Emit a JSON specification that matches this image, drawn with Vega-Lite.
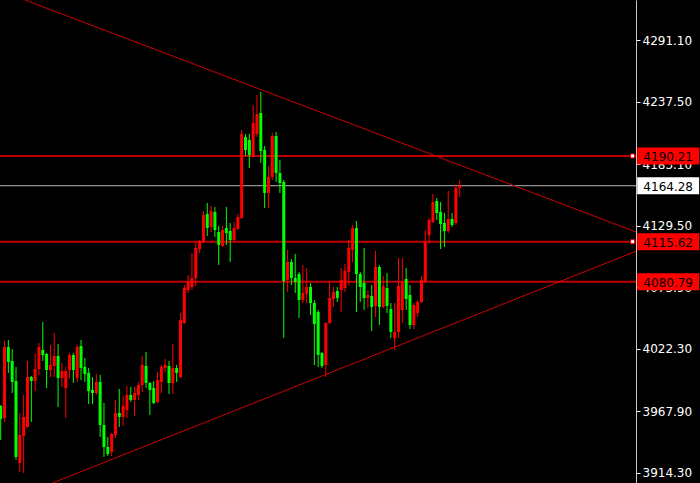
{
  "$schema": "https://vega.github.io/schema/vega-lite/v6.json",
  "width": 636,
  "height": 483,
  "autosize": {"type": "none"},
  "padding": {"left": 0, "top": 0, "right": 64, "bottom": 0},
  "background": "#000000",
  "config": {
    "view": {"stroke": null, "fill": "#000000"},
    "axisX": {"disable": true},
    "axisY": {
      "orient": "right",
      "title": null,
      "format": ".2f",
      "labelColor": "#ffffff",
      "labelFont": "DejaVu Sans",
      "labelFontSize": 12,
      "labelPadding": 2,
      "labelOverlap": false,
      "labelFlush": false,
      "labelBound": false,
      "tickColor": "#ffffff",
      "tickSize": 4,
      "domainColor": "#c8c8c8",
      "domainWidth": 1,
      "grid": false,
      "zindex": 0
    }
  },
  "resolve": {"scale": {"color": "independent", "strokeWidth": "independent"}},
  "datasets": {
    "candles": [
      {"i":0,"o":3972.60,"h":3973.47,"l":3943.02,"c":3961.29},
      {"i":1,"o":3962.17,"h":4029.17,"l":3958.68,"c":4023.95},
      {"i":2,"o":4023.95,"h":4030.04,"l":4001.32,"c":4010.89},
      {"i":3,"o":4011.76,"h":4022.21,"l":3983.92,"c":3993.49},
      {"i":4,"o":3994.36,"h":4006.54,"l":3925.61,"c":3928.22},
      {"i":5,"o":3923.00,"h":3966.51,"l":3915.17,"c":3947.37},
      {"i":6,"o":3946.50,"h":3982.18,"l":3914.30,"c":3963.03},
      {"i":7,"o":3954.33,"h":4011.76,"l":3953.46,"c":3997.84},
      {"i":8,"o":3997.84,"h":3998.71,"l":3958.68,"c":3994.36},
      {"i":9,"o":3994.36,"h":4017.86,"l":3985.66,"c":4004.81},
      {"i":10,"o":4004.81,"h":4027.43,"l":3999.58,"c":4023.95},
      {"i":11,"o":4021.34,"h":4045.70,"l":4011.76,"c":4016.99},
      {"i":12,"o":4017.86,"h":4018.73,"l":3988.27,"c":4003.93},
      {"i":13,"o":4003.93,"h":4025.69,"l":3997.84,"c":4008.28},
      {"i":14,"o":4007.41,"h":4036.13,"l":3997.84,"c":4016.12},
      {"i":15,"o":4016.12,"h":4026.56,"l":3971.73,"c":3996.97},
      {"i":16,"o":3996.97,"h":4010.02,"l":3989.14,"c":4003.06},
      {"i":17,"o":3988.27,"h":4006.54,"l":3962.17,"c":4003.06},
      {"i":18,"o":4003.93,"h":4018.73,"l":3996.97,"c":4016.99},
      {"i":19,"o":4016.99,"h":4018.73,"l":3992.62,"c":4003.93},
      {"i":20,"o":3996.97,"h":4025.69,"l":3993.49,"c":4023.95},
      {"i":21,"o":4024.82,"h":4030.04,"l":3995.23,"c":4005.67},
      {"i":22,"o":4006.54,"h":4014.37,"l":3993.49,"c":4000.45},
      {"i":23,"o":4001.32,"h":4005.67,"l":3974.35,"c":3985.66},
      {"i":24,"o":3986.53,"h":3997.84,"l":3974.35,"c":3983.92},
      {"i":25,"o":3983.92,"h":4000.45,"l":3982.18,"c":3993.49},
      {"i":26,"o":3993.49,"h":3999.58,"l":3945.63,"c":3956.07},
      {"i":27,"o":3956.07,"h":3975.22,"l":3928.22,"c":3936.93},
      {"i":28,"o":3936.93,"h":3945.63,"l":3929.09,"c":3930.83},
      {"i":29,"o":3932.57,"h":3949.11,"l":3929.09,"c":3948.24},
      {"i":30,"o":3947.37,"h":3977.83,"l":3944.76,"c":3966.51},
      {"i":31,"o":3966.51,"h":3987.40,"l":3954.33,"c":3963.03},
      {"i":32,"o":3963.03,"h":3981.31,"l":3955.20,"c":3972.60},
      {"i":33,"o":3969.12,"h":3990.01,"l":3962.17,"c":3982.18},
      {"i":34,"o":3982.18,"h":3989.14,"l":3976.09,"c":3977.83},
      {"i":35,"o":3977.83,"h":3989.14,"l":3963.90,"c":3983.92},
      {"i":36,"o":3982.18,"h":3993.49,"l":3977.83,"c":3990.88},
      {"i":37,"o":3990.88,"h":4016.12,"l":3984.79,"c":4008.28},
      {"i":38,"o":4007.41,"h":4019.60,"l":3988.27,"c":3992.62},
      {"i":39,"o":3992.62,"h":3993.49,"l":3964.77,"c":3986.53},
      {"i":40,"o":3988.27,"h":3994.36,"l":3974.35,"c":3975.22},
      {"i":41,"o":3976.09,"h":4002.19,"l":3975.22,"c":3995.23},
      {"i":42,"o":3993.49,"h":4008.28,"l":3983.92,"c":4006.54},
      {"i":43,"o":4005.67,"h":4013.50,"l":4002.19,"c":4008.28},
      {"i":44,"o":4007.41,"h":4011.76,"l":3983.05,"c":3992.62},
      {"i":45,"o":3992.62,"h":4026.56,"l":3983.05,"c":4005.67},
      {"i":46,"o":4005.67,"h":4008.28,"l":3993.49,"c":4001.32},
      {"i":47,"o":3997.84,"h":4053.53,"l":3996.97,"c":4047.44},
      {"i":48,"o":4044.83,"h":4077.90,"l":4043.96,"c":4075.29},
      {"i":49,"o":4073.55,"h":4086.60,"l":4070.94,"c":4080.51},
      {"i":50,"o":4076.16,"h":4105.75,"l":4073.55,"c":4083.99},
      {"i":51,"o":4083.99,"h":4115.32,"l":4077.03,"c":4110.10},
      {"i":52,"o":4109.23,"h":4117.06,"l":4105.75,"c":4116.19},
      {"i":53,"o":4115.32,"h":4142.30,"l":4114.45,"c":4138.81},
      {"i":54,"o":4139.69,"h":4149.26,"l":4120.54,"c":4127.50},
      {"i":55,"o":4128.37,"h":4146.65,"l":4124.02,"c":4142.30},
      {"i":56,"o":4141.43,"h":4145.78,"l":4119.67,"c":4125.76},
      {"i":57,"o":4124.02,"h":4129.24,"l":4095.30,"c":4112.71},
      {"i":58,"o":4111.84,"h":4129.24,"l":4110.97,"c":4125.76},
      {"i":59,"o":4127.50,"h":4145.78,"l":4112.71,"c":4123.15},
      {"i":60,"o":4124.89,"h":4131.85,"l":4097.91,"c":4117.06},
      {"i":61,"o":4117.06,"h":4132.72,"l":4115.32,"c":4127.50},
      {"i":62,"o":4126.63,"h":4139.69,"l":4125.76,"c":4137.07},
      {"i":63,"o":4136.20,"h":4212.78,"l":4135.33,"c":4209.30},
      {"i":64,"o":4206.69,"h":4209.30,"l":4190.16,"c":4195.38},
      {"i":65,"o":4204.08,"h":4209.30,"l":4179.71,"c":4191.03},
      {"i":66,"o":4190.16,"h":4234.54,"l":4189.29,"c":4218.87},
      {"i":67,"o":4209.30,"h":4243.24,"l":4206.69,"c":4226.71},
      {"i":68,"o":4227.58,"h":4245.85,"l":4184.07,"c":4194.51},
      {"i":69,"o":4195.38,"h":4198.86,"l":4144.91,"c":4157.96},
      {"i":70,"o":4157.96,"h":4181.45,"l":4144.91,"c":4171.88},
      {"i":71,"o":4171.88,"h":4210.17,"l":4169.27,"c":4207.56},
      {"i":72,"o":4207.56,"h":4211.04,"l":4167.53,"c":4175.36},
      {"i":73,"o":4175.36,"h":4186.68,"l":4157.96,"c":4166.66},
      {"i":74,"o":4167.53,"h":4169.27,"l":4031.78,"c":4081.38},
      {"i":75,"o":4082.25,"h":4108.36,"l":4071.81,"c":4097.91},
      {"i":76,"o":4097.91,"h":4100.53,"l":4077.90,"c":4083.99},
      {"i":77,"o":4083.99,"h":4104.88,"l":4070.94,"c":4080.51},
      {"i":78,"o":4087.47,"h":4089.21,"l":4049.18,"c":4064.85},
      {"i":79,"o":4064.85,"h":4095.30,"l":4062.24,"c":4070.94},
      {"i":80,"o":4070.07,"h":4092.69,"l":4062.24,"c":4076.16},
      {"i":81,"o":4076.16,"h":4079.64,"l":4051.79,"c":4062.24},
      {"i":82,"o":4062.24,"h":4064.85,"l":4008.28,"c":4043.96},
      {"i":83,"o":4054.40,"h":4056.14,"l":4006.54,"c":4016.99},
      {"i":84,"o":4018.73,"h":4019.60,"l":4005.67,"c":4007.41},
      {"i":85,"o":4008.28,"h":4045.70,"l":3997.84,"c":4044.83},
      {"i":86,"o":4044.83,"h":4081.38,"l":4043.96,"c":4066.59},
      {"i":87,"o":4065.72,"h":4076.16,"l":4058.76,"c":4071.81},
      {"i":88,"o":4072.68,"h":4076.16,"l":4063.11,"c":4066.59},
      {"i":89,"o":4073.55,"h":4092.69,"l":4054.40,"c":4082.25},
      {"i":90,"o":4075.29,"h":4096.17,"l":4071.81,"c":4090.08},
      {"i":91,"o":4089.21,"h":4117.06,"l":4077.90,"c":4110.10},
      {"i":92,"o":4108.36,"h":4130.11,"l":4097.91,"c":4127.50},
      {"i":93,"o":4127.50,"h":4133.59,"l":4054.40,"c":4087.47},
      {"i":94,"o":4087.47,"h":4089.21,"l":4063.11,"c":4076.16},
      {"i":95,"o":4079.64,"h":4110.10,"l":4056.14,"c":4066.59},
      {"i":96,"o":4066.59,"h":4073.55,"l":4057.89,"c":4069.20},
      {"i":97,"o":4068.33,"h":4077.90,"l":4037.87,"c":4058.76},
      {"i":98,"o":4059.63,"h":4107.49,"l":4050.05,"c":4093.56},
      {"i":99,"o":4093.56,"h":4095.30,"l":4043.09,"c":4058.76},
      {"i":100,"o":4058.76,"h":4085.73,"l":4057.89,"c":4077.03},
      {"i":101,"o":4075.29,"h":4088.34,"l":4053.53,"c":4059.63},
      {"i":102,"o":4057.02,"h":4062.24,"l":4031.78,"c":4037.00},
      {"i":103,"o":4031.78,"h":4062.24,"l":4021.34,"c":4037.00},
      {"i":104,"o":4037.00,"h":4101.40,"l":4031.78,"c":4077.03},
      {"i":105,"o":4056.14,"h":4101.40,"l":4044.83,"c":4080.51},
      {"i":106,"o":4083.12,"h":4092.69,"l":4056.14,"c":4065.72},
      {"i":107,"o":4069.20,"h":4077.90,"l":4039.61,"c":4043.09},
      {"i":108,"o":4043.09,"h":4062.24,"l":4039.61,"c":4060.50},
      {"i":109,"o":4053.53,"h":4064.85,"l":4050.05,"c":4063.11},
      {"i":110,"o":4063.11,"h":4085.73,"l":4062.24,"c":4082.25},
      {"i":111,"o":4080.51,"h":4125.76,"l":4079.64,"c":4115.32},
      {"i":112,"o":4121.41,"h":4136.20,"l":4113.58,"c":4134.46},
      {"i":113,"o":4132.72,"h":4157.09,"l":4131.85,"c":4150.13},
      {"i":114,"o":4151.00,"h":4153.61,"l":4134.46,"c":4140.56},
      {"i":115,"o":4141.43,"h":4150.13,"l":4109.23,"c":4130.98},
      {"i":116,"o":4131.85,"h":4140.56,"l":4110.97,"c":4124.89},
      {"i":117,"o":4124.89,"h":4159.70,"l":4123.15,"c":4135.33},
      {"i":118,"o":4135.33,"h":4140.56,"l":4128.37,"c":4130.11},
      {"i":119,"o":4131.85,"h":4165.79,"l":4130.11,"c":4162.31},
      {"i":120,"o":4162.31,"h":4169.27,"l":4154.48,"c":4164.28}
    ],
    "levels": [
      {"p": 4190.21, "kind": "level"},
      {"p": 4164.28, "kind": "bid"},
      {"p": 4115.62, "kind": "level"},
      {"p": 4080.79, "kind": "level"}
    ],
    "trend": [
      {"g": "upper", "i": 6.353, "p": 4325.91},
      {"g": "upper", "i": 166.09, "p": 4124.02},
      {"g": "lower", "i": 13.52, "p": 3905.6},
      {"g": "lower", "i": 166.09, "p": 4107.23}
    ]
  },
  "layer": [
    {
      "data": {"name": "levels"},
      "mark": {"type": "rule"},
      "encoding": {
        "y": {"field": "p", "type": "quantitative", "scale": {"domain": [3905.59, 4325.91], "nice": false, "zero": false, "padding": 0}, "axis": {"values": [3914.3, 3967.9, 4022.3, 4075.9, 4129.5, 4183.1, 4237.5, 4291.1]}},
        "color": {"field": "kind", "type": "nominal", "scale": {"domain": ["level", "bid"], "range": ["#c00000", "#b4b4b4"]}, "legend": null},
        "strokeWidth": {"field": "kind", "type": "nominal", "scale": {"domain": ["level", "bid"], "range": [2, 1]}, "legend": null}
      }
    },
    {
      "data": {"name": "trend"},
      "mark": {"type": "line", "clip": true, "color": "#d00000", "strokeWidth": 1},
      "encoding": {
        "x": {"field": "i", "type": "quantitative", "scale": {"domain": [-0.183, 166.09], "nice": false, "zero": false, "padding": 0}},
        "y": {"field": "p", "type": "quantitative", "scale": {"domain": [3905.59, 4325.91], "nice": false, "zero": false, "padding": 0}, "axis": {"values": [3914.3, 3967.9, 4022.3, 4075.9, 4129.5, 4183.1, 4237.5, 4291.1]}},
        "detail": {"field": "g", "type": "nominal"}
      }
    },
    {
      "data": {"name": "candles"},
      "mark": {"type": "rule", "strokeWidth": 1},
      "encoding": {
        "x": {"field": "i", "type": "quantitative", "scale": {"domain": [-0.183, 166.09], "nice": false, "zero": false, "padding": 0}},
        "y": {"field": "l", "type": "quantitative", "scale": {"domain": [3905.59, 4325.91], "nice": false, "zero": false, "padding": 0}, "axis": {"values": [3914.3, 3967.9, 4022.3, 4075.9, 4129.5, 4183.1, 4237.5, 4291.1]}},
        "y2": {"field": "h"},
        "color": {"condition": {"test": "datum.c >= datum.o", "value": "#ff0000"}, "value": "#00ff00"}
      }
    },
    {
      "data": {"name": "candles"},
      "mark": {"type": "bar", "size": 3},
      "encoding": {
        "x": {"field": "i", "type": "quantitative", "scale": {"domain": [-0.183, 166.09], "nice": false, "zero": false, "padding": 0}},
        "y": {"field": "o", "type": "quantitative", "scale": {"domain": [3905.59, 4325.91], "nice": false, "zero": false, "padding": 0}, "axis": {"values": [3914.3, 3967.9, 4022.3, 4075.9, 4129.5, 4183.1, 4237.5, 4291.1]}},
        "y2": {"field": "c"},
        "color": {"condition": {"test": "datum.c >= datum.o", "value": "#ff0000"}, "value": "#00ff00"}
      }
    },
    {
      "data": {"name": "levels"},
      "transform": [{"filter": {"field": "p", "oneOf": [4190.21, 4115.62]}}],
      "mark": {"type": "point", "shape": "square", "filled": true, "fill": "#ffffff", "stroke": "#e00000", "strokeWidth": 1, "size": 16, "opacity": 1, "clip": false},
      "encoding": {
        "x": {"datum": 165.2, "type": "quantitative", "scale": {"domain": [-0.183, 166.09], "nice": false, "zero": false, "padding": 0}},
        "y": {"field": "p", "type": "quantitative", "scale": {"domain": [3905.59, 4325.91], "nice": false, "zero": false, "padding": 0}, "axis": {"values": [3914.3, 3967.9, 4022.3, 4075.9, 4129.5, 4183.1, 4237.5, 4291.1]}}
      }
    },
    {
      "data": {"name": "levels"},
      "mark": {"type": "bar", "size": 17, "clip": false},
      "encoding": {
        "x": {"datum": 166.4, "type": "quantitative", "scale": {"domain": [-0.183, 166.09], "nice": false, "zero": false, "padding": 0}},
        "x2": {"datum": 182.6},
        "y": {"field": "p", "type": "quantitative", "scale": {"domain": [3905.59, 4325.91], "nice": false, "zero": false, "padding": 0}, "axis": {"values": [3914.3, 3967.9, 4022.3, 4075.9, 4129.5, 4183.1, 4237.5, 4291.1]}},
        "color": {"field": "kind", "type": "nominal", "scale": {"domain": ["level", "bid"], "range": ["#ff0000", "#ffffff"]}, "legend": null}
      }
    },
    {
      "data": {"name": "levels"},
      "mark": {"type": "text", "clip": false, "font": "DejaVu Sans", "fontSize": 12, "align": "center", "baseline": "middle", "color": "#000000", "dy": 1},
      "encoding": {
        "x": {"datum": 174.5, "type": "quantitative", "scale": {"domain": [-0.183, 166.09], "nice": false, "zero": false, "padding": 0}},
        "y": {"field": "p", "type": "quantitative", "scale": {"domain": [3905.59, 4325.91], "nice": false, "zero": false, "padding": 0}, "axis": {"values": [3914.3, 3967.9, 4022.3, 4075.9, 4129.5, 4183.1, 4237.5, 4291.1]}},
        "text": {"field": "p", "type": "quantitative", "format": ".2f"}
      }
    }
  ]
}
